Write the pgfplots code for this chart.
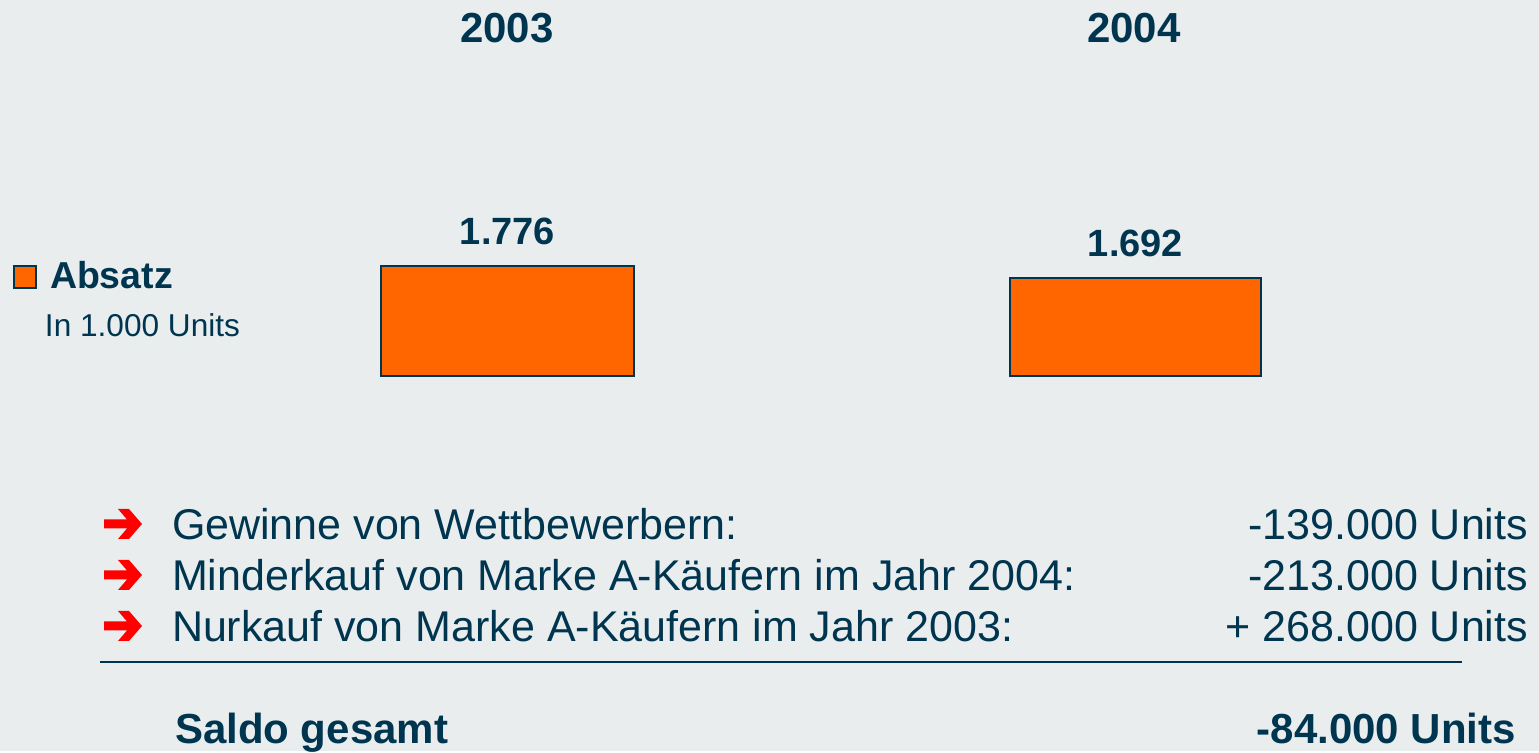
\documentclass[border=0pt]{standalone}
\usepackage{pgfplots}
\pgfplotsset{compat=1.18}
\usepackage{fontspec}
\setmainfont{Liberation Sans}
\definecolor{bg}{HTML}{E9EDEE}
\definecolor{navy}{HTML}{003550}
\definecolor{barorange}{HTML}{FF6600}
\definecolor{arrowred}{HTML}{FF0000}
% px -> 0.5pt
\newcommand{\fs}[1]{\fontsize{#1pt}{#1pt}\selectfont}
\begin{document}
\begin{tikzpicture}
\begin{scope}[shift={(0,375.5pt)},x=0.5pt,y=-0.5pt]
  \fill[bg] (0,0) rectangle (1539,751);
  \useasboundingbox (0,0) rectangle (1539,751);
\end{scope}
\begin{axis}[
  at={(0,0)}, anchor=south west,
  scale only axis, width=769.5pt, height=375.5pt,
  hide axis, clip=false,
  xmin=0, xmax=1539, ymin=-1619, ymax=3638,
]
  % Absatz 2003: 1776, 2004: 1692 (in 1.000 Units), bars drawn from common base 1006
  \addplot[fill=barorange, draw=navy, line width=1pt] coordinates {(381,1006) (381,1776) (634,1776) (634,1006)} -- cycle;
  \addplot[fill=barorange, draw=navy, line width=1pt] coordinates {(1010,1006) (1010,1692) (1261,1692) (1261,1006)} -- cycle;
\end{axis}
\begin{scope}[shift={(0,375.5pt)},x=0.5pt,y=-0.5pt, every node/.style={inner sep=0pt, outer sep=0pt, text=navy}]
  \node[anchor=base] at (507,43) {\fs{21}\bfseries 2003};
  \node[anchor=base] at (1134,43) {\fs{21}\bfseries 2004};
  \node[anchor=base] at (507.5,245) {\fs{19}\bfseries 1.776};
  \node[anchor=base] at (1135.5,257) {\fs{19}\bfseries 1.692};
  \fill[barorange, draw=navy, line width=0.8pt] (14,266) rectangle (36,288);
  \node[anchor=base west] at (50,289) {\fs{18.75}\bfseries Absatz};
  \node[anchor=base west] at (45,337) {\fs{15.8}In 1.000 Units};
  \foreach \yy/\tx/\val in {540/{Gewinne von Wettbewerbern:}/{-139.000 Units},
                            591/{Minderkauf von Marke A-Käufern im Jahr 2004:}/{-213.000 Units},
                            642/{Nurkauf von Marke A-Käufern im Jahr 2003:}/{+ 268.000 Units}} {
    \begin{scope}[shift={(0,\yy-16)}]
      \fill[arrowred] (104,-4.5) -- (127,-4.5) -- (118,-15) -- (129,-15) -- (142,0)
        -- (129,15) -- (118,15) -- (127,4.5) -- (104,4.5) -- cycle;
    \end{scope}
    \node[anchor=base west] at (172,\yy) {\fs{21.5}\tx};
    \node[anchor=base east] at (1528,\yy) {\fs{21.5}\val};
  }
  \draw[navy, line width=1pt] (100,662) -- (1462,662);
  \node[anchor=base west] at (175,744) {\fs{21}\bfseries Saldo gesamt};
  \node[anchor=base east] at (1516,744) {\fs{21}\bfseries -84.000 Units};
\end{scope}
\end{tikzpicture}
\end{document}
